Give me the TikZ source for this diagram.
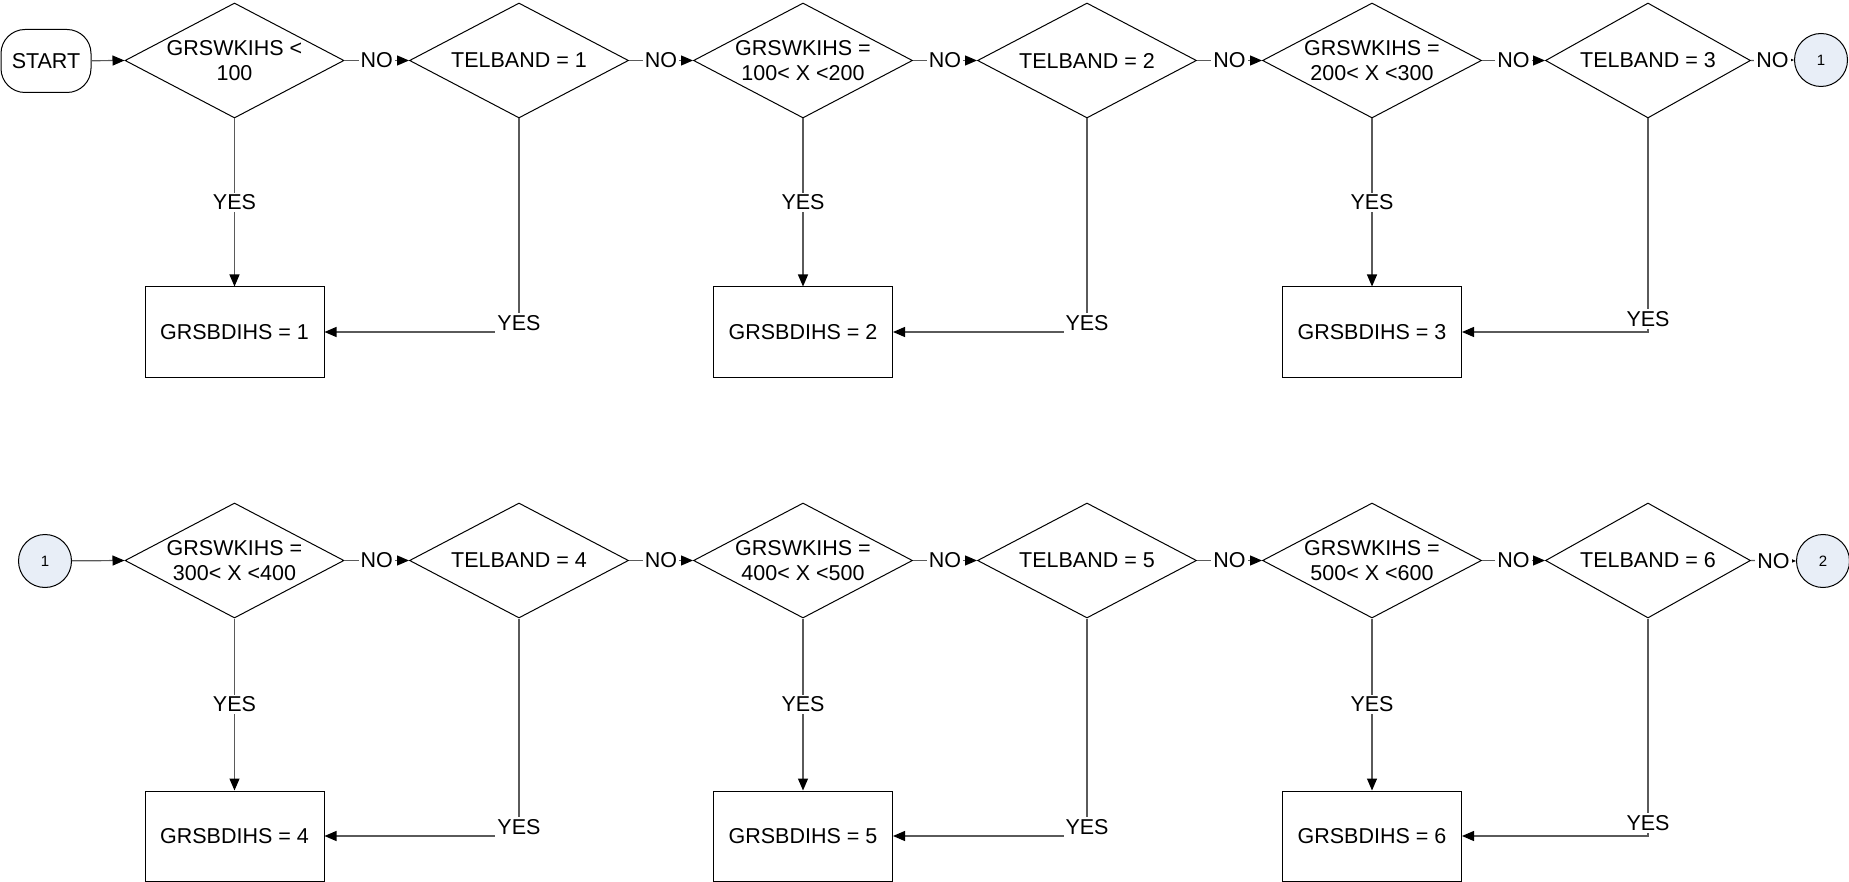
\documentclass[tikz,border=0pt]{standalone}
\usepackage{fontspec}
\setmainfont{Liberation Sans}
\usetikzlibrary{arrows.meta,shapes.geometric}

\definecolor{connfill}{RGB}{232,238,247}
\definecolor{linegray}{RGB}{90,90,90}

\tikzset{
  cond/.style={diamond, draw, line width=1pt, minimum width=219pt, minimum height=115pt, inner sep=0pt},
  condtext/.style={align=center, inner sep=0pt},
  proc/.style={rectangle, draw, line width=1pt, minimum width=179pt, minimum height=90pt},
  term/.style={rectangle, draw, line width=1pt, rounded corners=24pt, minimum width=90pt, minimum height=63pt},
  conn/.style={circle, draw, line width=1pt, fill=connfill, minimum size=53pt, inner sep=0pt, font=\fontsize{15}{17}\selectfont},
  flow/.style={draw=linegray, line width=1.2pt, -{Triangle[length=12pt, width=10pt, color=black]}},
  lbl/.style={fill=white, inner sep=2pt, text=black}
}

\begin{document}
\begin{tikzpicture}[x=1pt, y=-1pt, font=\fontsize{21.5}{25.5}\selectfont]
\useasboundingbox (0,0) rectangle (1849,882);

% --- Row 1 ---
\node[term] (start) at (46,61) {START};
\node[cond, label={[condtext]center:GRSWKIHS <\\100}] (c1) at (234.5,60.5) {};
\node[cond, label={[condtext]center:TELBAND = 1}] (t1) at (519,60.5) {};
\node[cond, label={[condtext]center:GRSWKIHS =\\100< X <200}] (c2) at (803,60.5) {};
\node[cond, label={[condtext]center:TELBAND = 2}] (t2) at (1087,60.5) {};
\node[cond, label={[condtext]center:GRSWKIHS =\\200< X <300}] (c3) at (1372,60.5) {};
\node[cond, minimum width=205pt, label={[condtext]center:TELBAND = 3}] (t3) at (1648,60.5) {};
\node[conn] (goA) at (1821,60) {1};

\node[proc] (r1) at (234.5,332) {GRSBDIHS = 1};
\node[proc] (r2) at (803,332) {GRSBDIHS = 2};
\node[proc] (r3) at (1372,332) {GRSBDIHS = 3};

\draw[flow] (start) -- (c1.west);
\draw[flow] (c1.east) -- node[lbl] {NO} (t1.west);
\draw[flow] (t1.east) -- node[lbl] {NO} (c2.west);
\draw[flow] (c2.east) -- node[lbl] {NO} (t2.west);
\draw[flow] (t2.east) -- node[lbl] {NO} (c3.west);
\draw[flow] (c3.east) -- node[lbl] {NO} (t3.west);
\draw[flow] (t3.east) -- node[lbl] {NO} (goA.west);

\draw[flow] (c1.south) -- node[lbl] {YES} (r1.north);
\draw[flow] (c2.south) -- node[lbl] {YES} (r2.north);
\draw[flow] (c3.south) -- node[lbl] {YES} (r3.north);
\draw[flow] (t1.south) |- node[lbl, yshift=9pt] {YES} (r1.east);
\draw[flow] (t2.south) |- node[lbl, yshift=9pt] {YES} (r2.east);
\draw[flow] (t3.south) |- node[lbl, yshift=13pt] {YES} (r3.east);

% --- Row 2 ---
\node[conn] (goB) at (45,561) {1};
\node[cond, label={[condtext]center:GRSWKIHS =\\300< X <400}] (c4) at (234.5,560.5) {};
\node[cond, label={[condtext]center:TELBAND = 4}] (t4) at (519,560.5) {};
\node[cond, label={[condtext]center:GRSWKIHS =\\400< X <500}] (c5) at (803,560.5) {};
\node[cond, label={[condtext]center:TELBAND = 5}] (t5) at (1087,560.5) {};
\node[cond, label={[condtext]center:GRSWKIHS =\\500< X <600}] (c6) at (1372,560.5) {};
\node[cond, minimum width=205pt, label={[condtext]center:TELBAND = 6}] (t6) at (1648,560.5) {};
\node[conn] (goC) at (1823,561) {2};

\node[proc] (r4) at (234.5,836) {GRSBDIHS = 4};
\node[proc] (r5) at (803,836) {GRSBDIHS = 5};
\node[proc] (r6) at (1372,836) {GRSBDIHS = 6};

\draw[flow] (goB) -- (c4.west);
\draw[flow] (c4.east) -- node[lbl] {NO} (t4.west);
\draw[flow] (t4.east) -- node[lbl] {NO} (c5.west);
\draw[flow] (c5.east) -- node[lbl] {NO} (t5.west);
\draw[flow] (t5.east) -- node[lbl] {NO} (c6.west);
\draw[flow] (c6.east) -- node[lbl] {NO} (t6.west);
\draw[flow] (t6.east) -- node[lbl] {NO} (goC.west);

\draw[flow] (c4.south) -- node[lbl] {YES} (r4.north);
\draw[flow] (c5.south) -- node[lbl] {YES} (r5.north);
\draw[flow] (c6.south) -- node[lbl] {YES} (r6.north);
\draw[flow] (t4.south) |- node[lbl, yshift=9pt] {YES} (r4.east);
\draw[flow] (t5.south) |- node[lbl, yshift=9pt] {YES} (r5.east);
\draw[flow] (t6.south) |- node[lbl, yshift=13pt] {YES} (r6.east);

\end{tikzpicture}
\end{document}
